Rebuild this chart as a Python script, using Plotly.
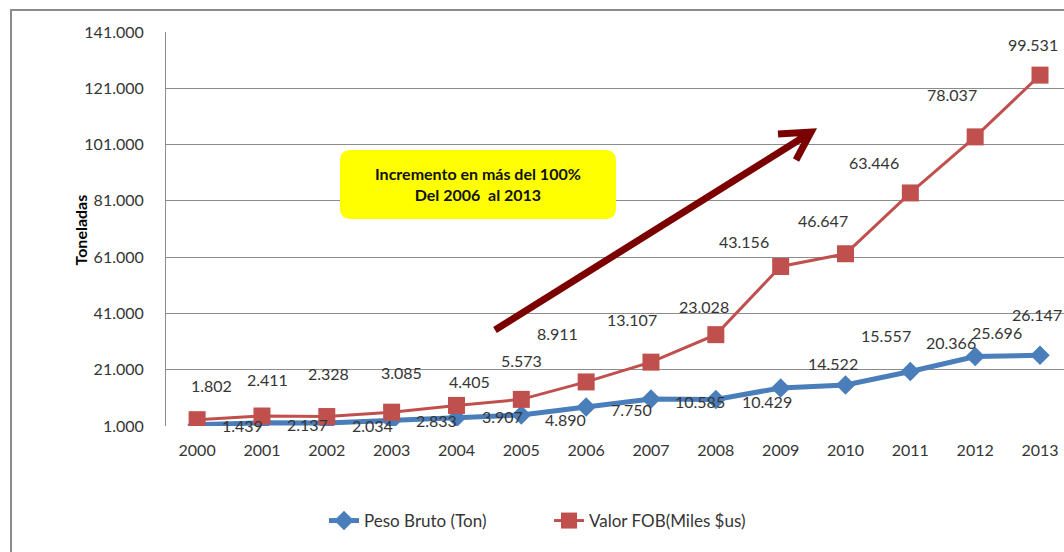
import plotly.graph_objects as go

years = [2000, 2001, 2002, 2003, 2004, 2005, 2006, 2007, 2008, 2009, 2010, 2011, 2012, 2013]
peso_bruto = [1439, 2137, 2034, 2833, 3907, 4890, 7750, 10585, 10429, 14522, 15557, 20366, 25696, 26147]
valor_fob = [1802, 2411, 2328, 3085, 4405, 5573, 8911, 13107, 23028, 43156, 46647, 63446, 78037, 99531]

# stacked line chart (Excel style): FOB is drawn on top of the weight
valor_fob_stacked = [p + v for p, v in zip(peso_bruto, valor_fob)]

# manual label offsets in px (dx, dy with dy positive = down), as placed in the original
blue_off = [(45, 1), (46, 2), (46, 2), (45, 0), (46, -1), (44, 4), (45, 2), (49, 2), (51, 2),
            (52, -24), (40, -50), (41, -29), (22, -24), (-3, -41)]
red_off = [(14, -34), (6, -37), (2, -43), (10, -40), (13, -24), (0, -39), (-29, -48), (-19, -43),
           (-12, -28), (-37, -25), (-23, -33), (-36, -30), (-23, -42), (-7, -31)]

W, H = 1064, 552
L, T, B = 166, 32, 126
XR = [1999.52, 2013.37]
YR = [1000, 141000]
PW, PH = W - L, H - T - B
FONT = "Lato, Open Sans, sans-serif"
TXT = "#353535"


def px_x(px):
    return XR[0] + (px - L) / PW * (XR[1] - XR[0])


def px_y(py):
    return YR[0] + (T + PH - py) / PH * (YR[1] - YR[0])


def fmt(v):
    return f"{v:,}".replace(",", ".")


fig = go.Figure()
fig.add_trace(go.Scatter(
    x=years, y=peso_bruto, name="Peso Bruto (Ton)", mode="lines+markers",
    line=dict(color="#4a7ebb", width=5),
    marker=dict(symbol="diamond", size=15, color="#4a7ebb"),
))
fig.add_trace(go.Scatter(
    x=years, y=valor_fob_stacked, name="Valor FOB(Miles $us)", mode="lines+markers",
    line=dict(color="#c0504d", width=3),
    marker=dict(symbol="square", size=17, color="#c0504d"),
))

ann = []
for yr, v, (dx, dy) in zip(years, peso_bruto, blue_off):
    ann.append(dict(x=yr, y=v, text=fmt(v), showarrow=False, xshift=dx, yshift=-dy,
                    font=dict(size=16, color=TXT)))
for yr, v, s, (dx, dy) in zip(years, valor_fob, valor_fob_stacked, red_off):
    ann.append(dict(x=yr, y=s, text=fmt(v), showarrow=False, xshift=dx, yshift=-dy,
                    font=dict(size=16, color=TXT)))

# y axis title
ann.append(dict(xref="paper", yref="paper", x=(68 - L) / PW, y=(T + PH - 230) / PH,
                text="<b>Toneladas</b>", textangle=-90, showarrow=False,
                font=dict(size=16, color="#000")))

# yellow callout text
ann.append(dict(x=px_x(478), y=px_y(184), showarrow=False,
                text="<b>Incremento en más del 100%<br>Del 2006  al 2013</b>",
                font=dict(size=16, color="#111"), align="center"))


def rounded_rect(x0, y0, x1, y1, r):
    pts = [
        f"M {px_x(x0 + r)} {px_y(y0)}", f"L {px_x(x1 - r)} {px_y(y0)}",
        f"Q {px_x(x1)} {px_y(y0)} {px_x(x1)} {px_y(y0 + r)}", f"L {px_x(x1)} {px_y(y1 - r)}",
        f"Q {px_x(x1)} {px_y(y1)} {px_x(x1 - r)} {px_y(y1)}", f"L {px_x(x0 + r)} {px_y(y1)}",
        f"Q {px_x(x0)} {px_y(y1)} {px_x(x0)} {px_y(y1 - r)}", f"L {px_x(x0)} {px_y(y0 + r)}",
        f"Q {px_x(x0)} {px_y(y0)} {px_x(x0 + r)} {px_y(y0)}", "Z",
    ]
    return " ".join(pts)


shapes = [
    dict(type="path", xref="x", yref="y", path=rounded_rect(340, 150, 616, 219, 11),
         fillcolor="#ffff00", line=dict(width=0), layer="above"),
    dict(type="path", xref="x", yref="y",
         path=(f"M {px_x(495)} {px_y(330)} L {px_x(810)} {px_y(133)} "
               f"M {px_x(778)} {px_y(134)} L {px_x(811)} {px_y(132)} L {px_x(796)} {px_y(160)}"),
         line=dict(color="#7b0000", width=7), layer="above"),
    dict(type="rect", xref="paper", yref="paper", x0=(11 - L) / PW, x1=1.3,
         y0=-0.5, y1=(T + PH - 10) / PH, line=dict(color="#8c8c8c", width=2), layer="below"),
]

fig.update_layout(
    width=W, height=H,
    margin=dict(l=L, r=0, t=T, b=B),
    paper_bgcolor="white", plot_bgcolor="white",
    separators=",.",
    font=dict(family=FONT, size=16, color=TXT),
    showlegend=True,
    legend=dict(orientation="h", x=(549 - L) / PW, y=(T + PH - 521) / PH,
                xanchor="center", yanchor="middle", font=dict(size=17, color=TXT),
                entrywidth=180, entrywidthmode="pixels"),
    annotations=ann,
    shapes=shapes,
    xaxis=dict(range=XR, tickvals=years, ticktext=[str(y) for y in years], showgrid=False,
               showline=False, zeroline=False, ticks="", ticklabelstandoff=13,
               tickfont=dict(size=16, color=TXT)),
    yaxis=dict(range=YR, tick0=1000, dtick=20000, tickformat=",d", showgrid=True,
               gridcolor="#8c8c8c", gridwidth=1, showline=True, linecolor="#8c8c8c",
               linewidth=1, zeroline=False, ticks="", ticklabelstandoff=18,
               tickfont=dict(size=16, color=TXT)),
)

fig.write_html(
    "out.html",
    config={"displayModeBar": False},
    post_script="document.body.style.margin='0';document.body.style.overflow='hidden';",
)
